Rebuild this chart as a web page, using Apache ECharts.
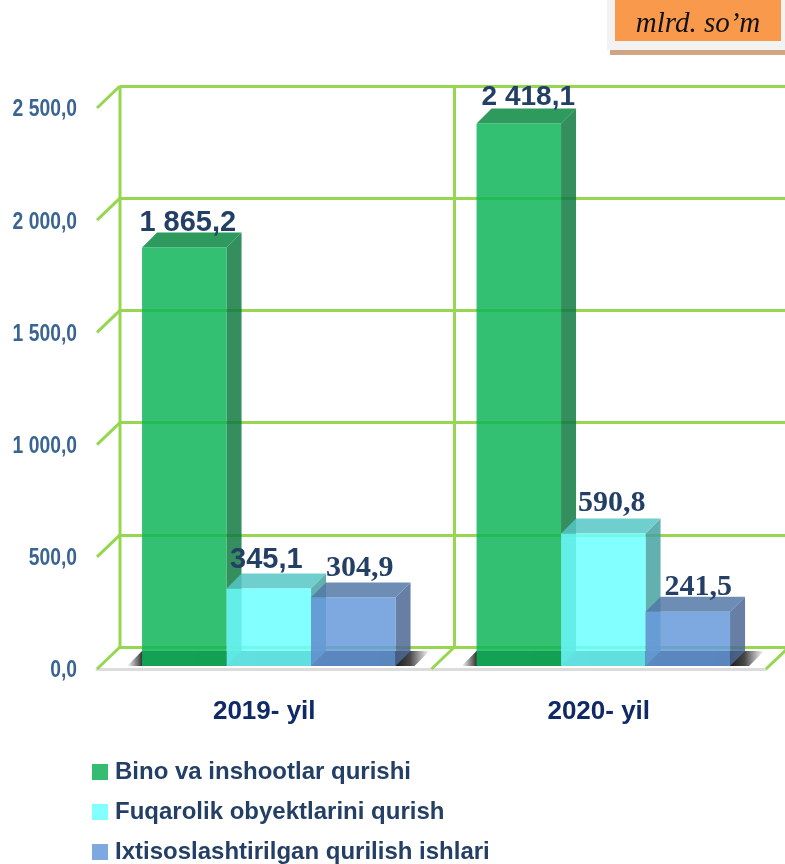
<!DOCTYPE html>
<html>
<head>
<meta charset="utf-8">
<style>
  html, body { margin: 0; padding: 0; background: #fff; }
  #chart { width: 785px; height: 864px; }
</style>
<script src="https://cdn.jsdelivr.net/npm/echarts@6/dist/echarts.min.js"></script>
</head>
<body>
<div id="chart"></div>
<script>
var years = ['2019- yil', '2020- yil'];
var seriesNames = ['Bino va inshootlar qurishi', 'Fuqarolik obyektlarini qurish', 'Ixtisoslashtirilgan qurilish ishlari'];
var binoValues = [1865.2, 2418.1];
var fuqarolikValues = [345.1, 590.8];
var ixtisosValues = [304.9, 241.5];
var yTicks = [0, 500, 1000, 1500, 2000, 2500];
var unitText = 'mlrd. so’m';

var sans = '"Liberation Sans", sans-serif';
var green = '#96d650';
var wallDx = 23, wallDy = -22;   // back wall offset from the front plane
var barDepth = 15, barLift = 3, barW = 84.5, groupLeft = -122.2;

// front, top, side (translucent, so the grid shows through) and legend colour
var barColors = [
    { front: 'rgba(16,181,89,.85)', top: 'rgba(9,136,66,.85)', side: 'rgba(16,122,66,.85)', legend: '#34bc72' },
    { front: 'rgba(108,255,255,.85)', top: 'rgba(86,198,198,.85)', side: 'rgba(70,162,162,.85)', legend: '#82ffff' },
    { front: 'rgba(102,154,218,.85)', top: 'rgba(83,121,168,.85)', side: 'rgba(76,104,149,.85)', legend: '#7da9e0' }
];
// value labels: the original mixes sans and serif, nudged by hand per point
var labelStyle = [
    { fonts: ['bold 29px "Liberation Sans"', 'bold 28px "Liberation Sans"'], nudge: [[-4, -9], [2, -11]] },
    { fonts: ['bold 29px "Liberation Sans"', 'bold 30px "Liberation Serif"'], nudge: [[-10, -14], [1, -15]] },
    { fonts: ['bold 30px "Liberation Serif"', 'bold 30px "Liberation Serif"'], nudge: [[-1, -14], [3, -10]] }
];

function fmt(v) {
    var s = v.toFixed(1).replace('.', ',');
    return s.replace(/\B(?=(\d{3})(?!\d))/g, ' ');
}

function barRender(idx) {
    return function (params, api) {
        var cat = api.value(0);
        var c = api.coord([cat, api.value(1)]);
        var b = api.coord([cat, 0]);
        var x0 = c[0] + groupLeft + idx * barW;
        var x1 = x0 + barW;
        var yT = c[1] - barLift;
        var yB = b[1] - barLift;
        var col = barColors[idx];
        var st = labelStyle[idx];
        var n = st.nudge[cat];
        return {
            type: 'group',
            children: [
                { type: 'polygon', shape: { points: [[x1, yT], [x1 + barDepth, yT - barDepth], [x1 + barDepth, yB - barDepth], [x1, yB]] }, style: { fill: col.side } },
                { type: 'polygon', shape: { points: [[x0, yT], [x0 + barDepth, yT - barDepth], [x1 + barDepth, yT - barDepth], [x1, yT]] }, style: { fill: col.top } },
                { type: 'rect', shape: { x: x0, y: yT, width: barW, height: yB - yT }, style: { fill: col.front } },
                { type: 'text', z2: 50, style: {
                    text: fmt(api.value(1)),
                    x: (x0 + x1 + barDepth) / 2 + n[0],
                    y: yT - barDepth + n[1],
                    align: 'center', verticalAlign: 'middle',
                    font: st.fonts[cat],
                    fill: '#243f66'
                } }
            ]
        };
    };
}

function shadowRender(params, api) {
    var cat = api.value(0);
    var b = api.coord([cat, 0]);
    var x0 = b[0] + groupLeft;
    var yB = b[1] - barLift;
    var xR = x0 + 3 * barW + barDepth;
    var pts = [[x0 - 15, yB], [x0, yB - barDepth], [xR + 19, yB - barDepth], [xR + 4, yB]];
    return {
        type: 'polygon',
        shape: { points: pts },
        style: {
            fill: new echarts.graphic.LinearGradient(0, 0, 1, 0, [
                { offset: 0, color: 'rgba(0,0,0,0)' },
                { offset: 0.05, color: 'rgba(0,0,0,.8)' },
                { offset: 0.885, color: 'rgba(0,0,0,.9)' },
                { offset: 0.935, color: 'rgba(0,0,0,.72)' },
                { offset: 1, color: 'rgba(0,0,0,0)' }
            ])
        }
    };
}

// the short diagonals joining the front plane to the back wall
function wallTickRender(params, api) {
    var band = api.size([1, 0])[0];
    var p = api.coord([0, api.value(1)]);
    var x = p[0] - band / 2 + api.value(0) * band;
    return {
        type: 'line',
        shape: { x1: x, y1: p[1], x2: x + wallDx, y2: p[1] + wallDy },
        style: { stroke: green, lineWidth: 3 }
    };
}

// verticals on the back wall, at the category boundaries
function wallColumnRender(params, api) {
    var band = api.size([1, 0])[0];
    var bottom = api.coord([0, yTicks[0]]);
    var top = api.coord([0, yTicks[yTicks.length - 1]]);
    var x = bottom[0] - band / 2 + api.value(0) * band + wallDx;
    return {
        type: 'line',
        shape: { x1: x, y1: bottom[1] + wallDy, x2: x, y2: top[1] + wallDy },
        style: { stroke: green, lineWidth: 3 }
    };
}

// tick labels as text elements: the original font is a narrow bold, so squeeze it
function tickLabelRender(params, api) {
    var band = api.size([1, 0])[0];
    var p = api.coord([0, api.value(1)]);
    return {
        type: 'text',
        x: p[0] - band / 2 - 20,
        y: p[1] + 2,
        scaleX: 0.84,
        style: {
            text: fmt(api.value(1)),
            align: 'right', verticalAlign: 'middle',
            font: 'bold 23px "Liberation Sans"',
            fill: '#3a6592'
        }
    };
}

var wallTicks = yTicks.map(function (t) { return [0, t]; }).concat([[1, 0], [2, 0]]);

function barSeries(idx, values) {
    return {
        name: seriesNames[idx],
        type: 'custom',
        xAxisIndex: 0,
        yAxisIndex: 0,
        clip: false,
        z: 5 + idx,
        itemStyle: { color: barColors[idx].legend },
        encode: { x: 0, y: 1 },
        data: values.map(function (v, i) { return [i, v]; }),
        renderItem: barRender(idx)
    };
}

var splitStyle = { show: true, lineStyle: { color: green, width: 3 } };
var chart = echarts.init(document.getElementById('chart'));
chart.setOption({
    animation: false,
    backgroundColor: '#fff',
    grid: [
        { left: 97, top: 108, width: 669, height: 561 },
        { left: 97 + wallDx, top: 108 + wallDy, width: 669, height: 561 }
    ],
    legend: {
        orient: 'vertical',
        left: 92,
        top: 760,
        padding: 0,
        icon: 'rect',
        itemWidth: 16,
        itemHeight: 16,
        itemGap: 16,
        itemStyle: { borderWidth: 0 },
        data: seriesNames,
        textStyle: { fontFamily: sans, fontWeight: 'bold', fontSize: 24, color: '#243f66', padding: [0, 0, 0, 2] }
    },
    xAxis: [
        {
            type: 'category', gridIndex: 0, data: years,
            axisTick: { show: false },
            axisLine: { lineStyle: { color: '#dcdcdc', width: 3 } },
            axisLabel: { fontFamily: sans, fontWeight: 'bold', fontSize: 26, color: '#0f2a66', margin: 30 }
        },
        {
            type: 'category', gridIndex: 1, data: years,
            axisTick: { show: false }, axisLine: { show: false }, axisLabel: { show: false },
            splitLine: { show: false }
        }
    ],
    yAxis: [
        {
            type: 'value', gridIndex: 0, min: 0, max: 2500, interval: 500,
            axisLine: { show: false }, axisTick: { show: false }, splitLine: { show: false },
            axisLabel: { show: false }
        },
        {
            type: 'value', gridIndex: 1, min: 0, max: 2500, interval: 500,
            axisLine: { show: false }, axisTick: { show: false }, axisLabel: { show: false },
            splitLine: splitStyle
        }
    ],
    graphic: [
        { type: 'rect', shape: { x: 610, y: 49, width: 175, height: 6 }, style: { fill: '#cfa584' }, z: 20 },
        { type: 'rect', shape: { x: 607, y: 0, width: 178, height: 50 }, style: { fill: '#f2f2f2' }, z: 20 },
        { type: 'rect', shape: { x: 615, y: 0, width: 166, height: 41 }, style: { fill: '#f9994b' }, z: 21 },
        { type: 'text', x: 698, y: 24, z: 22, style: { text: unitText, align: 'center', verticalAlign: 'middle', font: 'italic 29px "Liberation Serif"', fill: '#111' } }
    ],
    series: [
        {
            type: 'custom', xAxisIndex: 0, yAxisIndex: 0, clip: false, z: 1,
            silent: true, encode: { x: 0, y: 1 },
            data: [[0, 0], [1, 0], [2, 0]], renderItem: wallColumnRender
        },
        {
            type: 'custom', xAxisIndex: 0, yAxisIndex: 0, clip: false, z: 1,
            silent: true, encode: { x: 0, y: 1 },
            data: wallTicks, renderItem: wallTickRender
        },
        {
            type: 'custom', xAxisIndex: 0, yAxisIndex: 0, clip: false, z: 1,
            silent: true, encode: { x: 0, y: 1 },
            data: yTicks.map(function (t) { return [0, t]; }), renderItem: tickLabelRender
        },
        {
            type: 'custom', xAxisIndex: 0, yAxisIndex: 0, clip: false, z: 2,
            silent: true, encode: { x: 0, y: 1 },
            data: years.map(function (y, i) { return [i, 0]; }), renderItem: shadowRender
        },
        barSeries(0, binoValues),
        barSeries(1, fuqarolikValues),
        barSeries(2, ixtisosValues)
    ]
});
</script>
</body>
</html>
